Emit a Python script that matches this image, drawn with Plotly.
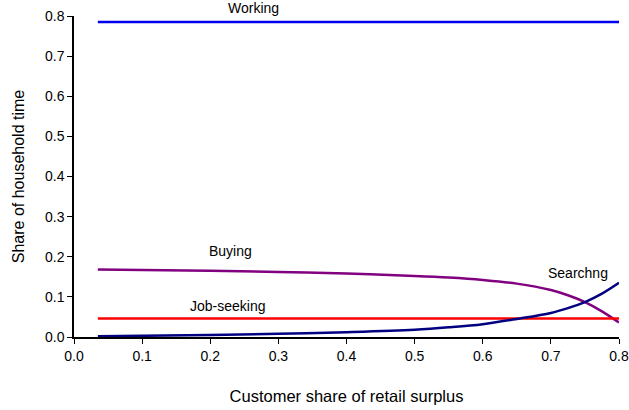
import plotly.graph_objects as go

x_share = [0.035, 0.1, 0.2, 0.3, 0.4, 0.5, 0.55, 0.6, 0.65, 0.7, 0.725, 0.75, 0.775, 0.8]
working = [0.785] * len(x_share)
job_seeking = [0.046] * len(x_share)
searching = [0.002, 0.003, 0.005, 0.008, 0.012, 0.018, 0.024, 0.032, 0.045, 0.060, 0.072, 0.087, 0.108, 0.135]
buying = [0.168, 0.167, 0.165, 0.162, 0.158, 0.152, 0.148, 0.142, 0.133, 0.117, 0.104, 0.087, 0.064, 0.036]

series = [
    ("Working", working, "#0000EE"),
    ("Buying", buying, "#800080"),
    ("Job-seeking", job_seeking, "#FF0000"),
    ("Searchng", searching, "#000080"),
]

labels = [
    ("Working", 0.264, 0.82),
    ("Buying", 0.229, 0.214),
    ("Job-seeking", 0.226, 0.078),
    ("Searchng", 0.74, 0.16),
]

fig = go.Figure()
for name, vals, color in series:
    fig.add_trace(go.Scatter(x=x_share, y=vals, mode="lines", name=name,
                             line=dict(color=color, width=2.5, shape="spline")))

for text, lx, ly in labels:
    fig.add_annotation(x=lx / 0.8, y=ly / 0.8, text=text, showarrow=False,
                       xanchor="center", yanchor="middle",
                       font=dict(size=14, color="black"), xref="paper", yref="paper")

axis_common = dict(showline=True, linecolor="black", linewidth=1.5, ticks="outside",
                   ticklen=5, tickcolor="black", showgrid=False, zeroline=False,
                   tickformat=".1f", dtick=0.1, tickfont=dict(size=14, color="black"),
                   range=[0, 0.8], automargin=False)

fig.update_xaxes(**axis_common, title=dict(text="Customer share of retail surplus",
                                           font=dict(size=16.5, color="black"), standoff=28))
fig.update_yaxes(**axis_common, title=dict(text="Share of household time",
                                           font=dict(size=16, color="black"), standoff=16))

fig.update_layout(width=629, height=410, showlegend=False,
                  margin=dict(l=74, r=10, t=16, b=73),
                  plot_bgcolor="white", paper_bgcolor="white",
                  font=dict(family="Liberation Sans, Arial, sans-serif"))

fig.write_html("out.html", config={"displayModeBar": False},
               post_script="document.body.style.margin='0';")
